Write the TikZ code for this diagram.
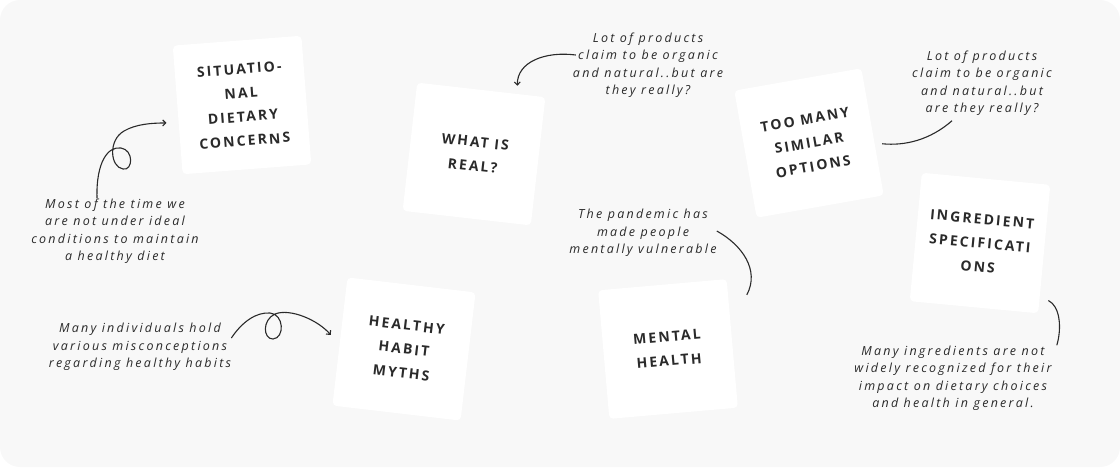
\documentclass[tikz,border=0pt]{standalone}
\usepackage{fontspec}
\setmainfont{Open Sans}
\newfontfamily\cardfont[LetterSpace=15]{Open Sans}
\newfontfamily\notefont[LetterSpace=18]{Open Sans}
\usetikzlibrary{arrows.meta,calc}
\definecolor{boardgray}{HTML}{F8F8F8}
\definecolor{inkdark}{HTML}{2A2A2A}

\begin{document}
\begin{tikzpicture}[x=1pt, y=-1pt,
    card/.style={fill=white, rounded corners=4pt, minimum width=129pt, minimum height=129pt,
                 inner sep=0pt, align=center, text=inkdark,
                 font=\cardfont\bfseries\fontsize{14}{24}\selectfont},
    note/.style={align=center, text=inkdark, inner sep=0pt,
                 font=\notefont\itshape\fontsize{12.5}{17.5}\selectfont},
    link/.style={draw=inkdark, line width=1.1pt},
    arr/.style={link, -{Straight Barb[length=3pt,width=6pt]}}
  ]
  \useasboundingbox (0,0) rectangle (1120,467);
  \fill[boardgray, rounded corners=20pt] (0,0) rectangle (1120,467);

  % cards
  \node[card, rotate=4.4] (sit) at (242,105) {SITUATIO-\\NAL\\DIETARY\\CONCERNS};
  \node[card, rotate=-6.5] (real) at (474,154) {WHAT IS\\REAL?};
  \node[card, rotate=10] (opts) at (809,143) {TOO MANY\\SIMILAR\\OPTIONS};
  \node[card, rotate=-5.4] (ingr) at (980,243) {INGREDIENT\\SPECIFICATI\\ONS};
  \node[card, rotate=5] (mental) at (668,349) {MENTAL\\HEALTH};
  \node[card, rotate=-6.7] (myths) at (404,349) {HEALTHY\\HABIT\\MYTHS};

  % notes
  \node[note] (n1) at (115,231) {Most of the time we\\are not under ideal\\conditions to maintain\\a healthy diet};
  \node[note] (n2) at (140,347) {Many individuals hold\\various misconceptions\\regarding healthy habits};
  \node[note] (n3) at (648,65) {Lot of products\\claim to be organic\\and natural..but are\\they really?};
  \node[note] (n4) at (982,83) {Lot of products\\claim to be organic\\and natural..but\\are they really?};
  \node[note] (n5) at (643,233) {The pandemic has\\made people\\mentally vulnerable};
  \node[note] (n6) at (953,378) {Many ingredients are not\\widely recognized for their\\impact on dietary choices\\and health in general.};

  % connectors
  \draw[arr] ([xshift=-18pt]n1.north) .. controls (96,162) and (108,146) .. (121,148)
    .. controls (134,150) and (133,171) .. (123,169)
    .. controls (110,167) and (108,140) .. (124,131)
    .. controls (136,124) and (152,123) .. ($(sit.west)+(-11,13)$);
  \draw[arr] ([yshift=9pt]n2.east) .. controls (242,322) and (256,312) .. (270,313)
    .. controls (284,314) and (285,338) .. (273,339)
    .. controls (263,339) and (262,320) .. (275,314)
    .. controls (290,308) and (318,320) .. ($(myths.west)+(-9,-6.5)$);
  \draw[arr] ($(n3.west)+(3,-10)$) .. controls (545,51) and (517,62) .. ($(real.north)+(36,-4)$);
  \draw[link] ($(n4.south)+(-30,5)$) .. controls (930,140) and (905,146) .. ($(opts.east)+(9.5,12)$);
  \draw[link] ($(n5.east)+(0,-2)$) .. controls (742,245) and (760,270) .. ($(mental.north east)+(20,16)$);
  \draw[link] ($(ingr.south east)+(10,-13)$) .. controls (1060,306) and (1062,328) .. ($(n6.north east)+(5,0)$);
\end{tikzpicture}
\end{document}
